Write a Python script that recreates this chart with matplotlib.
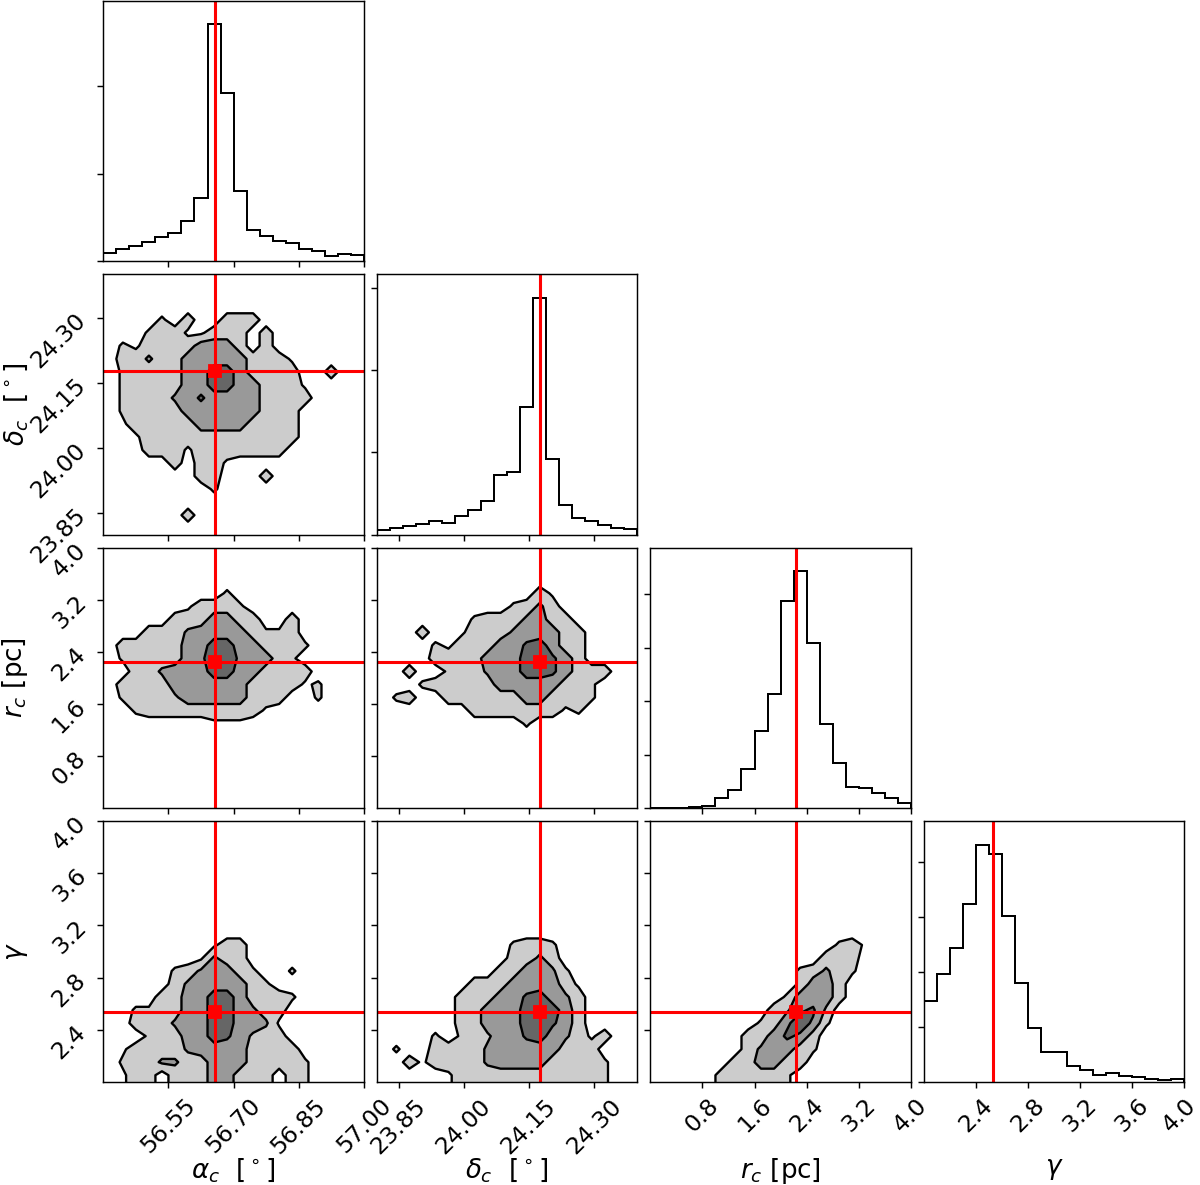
import numpy as np
import matplotlib
matplotlib.use("Agg")
import matplotlib.pyplot as plt
from matplotlib.transforms import ScaledTranslation

# axis labels, ranges, reference values and ticks
labels = [r"$\alpha_c$  $[^\circ]$", r"$\delta_c$  $[^\circ]$", r"$r_c$ [pc]", r"$\gamma$"]
ranges = [(56.40, 57.00), (23.80, 24.40), (0.0, 4.0), (2.0, 4.0)]
truths = [56.658, 24.177, 2.24, 2.533]
ticks = [[56.55, 56.70, 56.85, 57.00],
         [23.85, 24.00, 24.15, 24.30],
         [0.8, 1.6, 2.4, 3.2, 4.0],
         [2.4, 2.8, 3.2, 3.6, 4.0]]
tick_text = [["56.55", "56.70", "56.85", "57.00"],
             ["23.85", "24.00", "24.15", "24.30"],
             ["0.8", "1.6", "2.4", "3.2", "4.0"],
             ["2.4", "2.8", "3.2", "3.6", "4.0"]]

# 1d marginal histograms, 20 bins each (counts)
hist_alpha = [99, 141, 175, 217, 274, 327, 464, 726, 2703, 1924,
              806, 354, 293, 232, 213, 141, 114, 61, 80, 68]
hist_delta = [53, 85, 105, 134, 170, 142, 227, 304, 414, 730,
              767, 1554, 2880, 917, 365, 203, 166, 114, 85, 69]
hist_r = [0, 0, 6, 19, 50, 193, 343, 735, 1433, 2125,
          3863, 4424, 3078, 1564, 841, 405, 380, 287, 193, 100]
hist_gamma = [1467, 1952, 2436, 3230, 4309, 4152, 3024, 1794, 982, 533,
              539, 279, 218, 127, 164, 109, 91, 55, 36, 42]
hists = [hist_alpha, hist_delta, hist_r, hist_gamma]

# 2d density levels on the 20x20 grid (top row first), 3 = outer, 6 = middle, 9 = inner
dens_alpha_delta = [
    "00000000000000000000",
    "00000000000000000000",
    "00000000000000000000",
    "00002030033300000000",
    "00023311333030000000",
    "02133336663030000000",
    "03353366666333100000",
    "02333366996333300300",
    "02333366996633310000",
    "02333568666633330000",
    "02333366666633300000",
    "01333336666333300000",
    "00133333333333300000",
    "00033313333333000000",
    "00000303310000000000",
    "00000003300030000000",
    "00000000200000000000",
    "00000000000000000000",
    "00000030000000000000",
    "00000000000000000000",
]
dens_alpha_r = [
    "00000000000000000000",
    "00000000000000000000",
    "00000000000000000000",
    "00000000020000000000",
    "00000013332000000000",
    "00000333663300300000",
    "00033356666322300000",
    "03333366996633320000",
    "02333367997663200000",
    "00335666996633330000",
    "03333666666333312000",
    "02333466666333002000",
    "00233333333310000000",
    "00000000111000000000",
    "00000000000000000000",
    "00000000000000000000",
    "00000000000000000000",
    "00000000000000000000",
    "00000000000000000000",
    "00000000000000000000",
]
dens_delta_r = [
    "00000000000000000000",
    "00000000000000000000",
    "00000000000000000000",
    "00000000000031000000",
    "00000000002353000000",
    "00000002333563300000",
    "00030013335666330000",
    "00002133366896330000",
    "00003333666998630000",
    "00300233566998633300",
    "00023333366666332000",
    "02300333333663332000",
    "00000003333333120000",
    "00000000000200000000",
    "00000000000000000000",
    "00000000000000000000",
    "00000000000000000000",
    "00000000000000000000",
    "00000000000000000000",
    "00000000000000000000",
]
dens_alpha_gamma = [
    "00000000000000000000",
    "00000000000000000000",
    "00000000000000000000",
    "00000000000000000000",
    "00000000000000000000",
    "00000000000000000000",
    "00000000000000000000",
    "00000000000000000000",
    "00000000000000000000",
    "00000000133000000000",
    "00000001533000000000",
    "00000235663200200000",
    "00000356666320000000",
    "00003366996333200000",
    "00223366996533000000",
    "00333566996651000000",
    "00023366986433000000",
    "01333356666333300000",
    "02335533666333320000",
    "01330333663330320000",
]
dens_delta_gamma = [
    "00000000000000000000",
    "00000000000000000000",
    "00000000000000000000",
    "00000000000000000000",
    "00000000000000000000",
    "00000000000000000000",
    "00000000000000000000",
    "00000000000000000000",
    "00000000000000000000",
    "00000000002332000000",
    "00000000003353000000",
    "00000000033665200000",
    "00000003336666310000",
    "00000033366896530000",
    "00000033666999630000",
    "00000033666998630000",
    "00002023466896531300",
    "02003333566666333000",
    "00313333566663333200",
    "00000133333333333200",
]
dens_r_gamma = [
    "00000000000000000000",
    "00000000000000000000",
    "00000000000000000000",
    "00000000000000000000",
    "00000000000000000000",
    "00000000000000000000",
    "00000000000000000000",
    "00000000000000000000",
    "00000000000000000000",
    "00000000000000231000",
    "00000000000003330000",
    "00000000000235320000",
    "00000000000266300000",
    "00000000002666300000",
    "00000000034784000000",
    "00000000237972000000",
    "00000003368730000000",
    "00000003566320000000",
    "00000033663300000000",
    "00000333332000000000",
]
dens = {(1, 0): dens_alpha_delta, (2, 0): dens_alpha_r, (2, 1): dens_delta_r,
        (3, 0): dens_alpha_gamma, (3, 1): dens_delta_gamma, (3, 2): dens_r_gamma}

fills = ["#cccccc", "#999999", "#666666"]
red = "#ff0000"
tick_size = 13
label_size = 14.5


def draw_density(ax, rows, xr, yr):
    z = np.array([[float(c) for c in r] for r in rows])[::-1]
    ny, nx = z.shape
    z = np.pad(z, 1, mode="edge")
    dx = (xr[1] - xr[0]) / nx
    dy = (yr[1] - yr[0]) / ny
    xc = xr[0] + dx * (np.arange(nx + 2) - 0.5)
    yc = yr[0] + dy * (np.arange(ny + 2) - 0.5)
    ax.contourf(xc, yc, z, levels=[1.5, 4.5, 7.5, 10], colors=fills)
    ax.contour(xc, yc, z, levels=[1.5, 4.5, 7.5], colors="k", linewidths=1.3)


fig, axes = plt.subplots(4, 4, figsize=(1200 / 130, 1185 / 130), dpi=130)
fig.subplots_adjust(left=0.0861, right=0.98692, bottom=0.08717, top=0.99941,
                    wspace=0.05, hspace=0.05)

K = 4
for i in range(K):
    for j in range(K):
        ax = axes[i, j]
        if j > i:
            ax.set_axis_off()
            continue
        ax.set_xlim(*ranges[j])
        ax.set_xticks(ticks[j])
        if i == j:
            edges = np.linspace(ranges[i][0], ranges[i][1], 21)
            ax.stairs(hists[i], edges, color="k", linewidth=1.1)
            ax.axvline(truths[i], color=red, linewidth=1.7)
            ax.set_ylim(0, 1.1 * max(hists[i]))
            ax.yaxis.set_major_locator(plt.MultipleLocator(1000))
            ax.set_yticklabels([])
        else:
            draw_density(ax, dens[(i, j)], ranges[j], ranges[i])
            ax.axvline(truths[j], color=red, linewidth=1.7)
            ax.axhline(truths[i], color=red, linewidth=1.7)
            ax.plot(truths[j], truths[i], "s", color=red, markersize=6.5)
            ax.set_ylim(*ranges[i])
            ax.set_yticks(ticks[i])
            if j == 0:
                ax.set_yticklabels(tick_text[i], rotation=45, fontsize=tick_size)
                ax.set_ylabel(labels[i], fontsize=label_size)
                ax.yaxis.set_label_coords(-0.28, 0.5)
            else:
                ax.set_yticklabels([])
        if i == K - 1:
            ax.set_xticklabels(tick_text[j], rotation=45, fontsize=tick_size)
            ax.set_xlabel(labels[j], fontsize=label_size)
            ax.xaxis.set_label_coords(0.5, -0.285)
        else:
            ax.set_xticklabels([])

# keep the last tick label of the gamma panel inside the canvas
last = axes[3, 3].get_xticklabels()[-1]
last.set_transform(last.get_transform() + ScaledTranslation(-5 / 130, 0, fig.dpi_scale_trans))

fig.savefig("out.png", dpi=130)
